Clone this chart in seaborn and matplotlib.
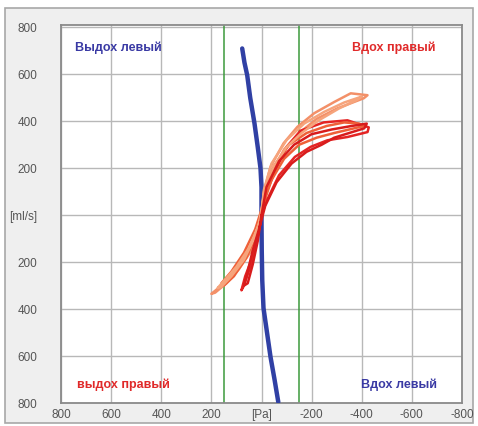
import numpy as np
import pandas as pd
import matplotlib
matplotlib.use("Agg")
import matplotlib.pyplot as plt
import seaborn as sns
from matplotlib.patches import Rectangle

# ---------------- data ----------------
x_ticks = [800, 600, 400, 200, 0, -200, -400, -600, -800]
x_labels = ["800", "600", "400", "200", "[Pa]", "-200", "-400", "-600", "-800"]
y_ticks = [800, 600, 400, 200, 0, -200, -400, -600, -800]
y_labels = ["800", "600", "400", "200", "[ml/s]", "200", "400", "600", "800"]
green_lines = [150, -148]

blue_p = [77, 68, 57, 45, 28, 15, 4, 0, 0, -1, -3, -8, -22, -36, -52, -67]
blue_q = [710, 650, 596, 500, 391, 290, 200, 119, -30, -150, -277, -396, -500, -604, -700, -796]

cycA_p = [0, -8, -36, -88, -143, -210, -290, -356, -423, -408, -303, -220, -150, -90, -40, -5, 20, 60, 110, 160, 200, 185, 140, 90, 40, 10, 0]
cycA_q = [0, 94, 206, 306, 376, 434, 482, 519, 511, 498, 455, 410, 350, 280, 180, 50, -80, -170, -240, -300, -335, -330, -290, -230, -150, -60, 0]

cycB_p = [0, -20, -60, -100, -156, -248, -343, -428, -423, -343, -263, -196, -133, -70, -20, 0, 15, 40, 65, 80, 70, 45, 20, 0]
cycB_q = [0, 100, 200, 290, 360, 395, 404, 374, 354, 333, 319, 291, 248, 170, 60, 0, -90, -190, -260, -320, -300, -220, -120, 0]

cycC_p = [0, -15, -50, -110, -180, -260, -330, -390, -410, -350, -290, -220, -150, -90, -40, -5, 25, 70, 120, 160, 150, 110, 60, 20, 0]
cycC_q = [0, 100, 210, 300, 350, 380, 395, 390, 380, 365, 350, 330, 300, 240, 150, 40, -60, -160, -240, -290, -300, -260, -180, -80, 0]

cycD_p = [0, -10, -40, -100, -170, -250, -330, -400, -380, -310, -230, -160, -100, -50, -10, 10, 50, 100, 150, 175, 160, 120, 70, 30, 0]
cycD_q = [0, 110, 220, 320, 390, 440, 480, 505, 490, 455, 405, 350, 290, 210, 90, -40, -140, -220, -280, -310, -305, -260, -190, -100, 0]

cycE_p = [0, -20, -70, -130, -200, -280, -360, -420, -410, -350, -290, -240, -180, -120, -60, -15, 10, 35, 55, 70, 55, 35, 15, 0]
cycE_q = [0, 120, 230, 300, 345, 365, 380, 390, 370, 350, 330, 300, 270, 220, 140, 40, -60, -150, -240, -300, -290, -210, -110, 0]

cycle_names = ["A", "B", "C", "D", "E"]
cycle_colors = ["#f39068", "#e42424", "#ef6038", "#f6a47c", "#d81c1c"]

# ---------------- build frames ----------------
cycles = [(cycA_p, cycA_q), (cycB_p, cycB_q), (cycC_p, cycC_q), (cycD_p, cycD_q), (cycE_p, cycE_q)]
rows = []
for name, (ps, qs) in zip(cycle_names, cycles):
    for i, (p, q) in enumerate(zip(ps, qs)):
        rows.append({"cycle": name, "order": i, "p": p, "q": q})
red_df = pd.DataFrame(rows)
blue_df = pd.DataFrame({"p": blue_p, "q": blue_q})

# ---------------- figure ----------------
sns.set_style("white")
plt.rcParams['font.family'] = ['Liberation Sans', 'DejaVu Sans']

W, H = 478, 426
fig = plt.figure(figsize=(W / 100, H / 100), dpi=100, facecolor="white")
frame = Rectangle((5 / W, 3 / H), 468 / W, 415 / H, transform=fig.transFigure,
                  facecolor="#efefef", edgecolor="#a8a8a8", linewidth=1.2, zorder=-10)
fig.add_artist(frame)

ax = fig.add_axes([61 / W, (H - 403) / H, (462 - 61) / W, (403 - 25) / H])
ax.set_zorder(5)
ax.set_facecolor("white")

ax.set_xlim(800, -800)
ax.set_ylim(-800, 810)

for t in x_ticks:
    ax.axvline(t, color="#b8b8b8", lw=1.0, zorder=1)
for t in y_ticks:
    ax.axhline(t, color="#b8b8b8", lw=1.0, zorder=1)
for g in green_lines:
    ax.axvline(g, color="#3c9a3c", lw=1.1, zorder=2)

sns.lineplot(data=blue_df, x="p", y="q", sort=False, estimator=None, color="#3040a4",
             lw=3.2, ax=ax, zorder=3)
sns.lineplot(data=red_df, x="p", y="q", hue="cycle", units="cycle", sort=False,
             estimator=None, palette=dict(zip(cycle_names, cycle_colors)), lw=1.8,
             ax=ax, legend=False, zorder=4)

ax.set_xticks(x_ticks)
ax.set_xticklabels(x_labels)
ax.set_yticks(y_ticks)
ax.set_yticklabels(y_labels)
ax.tick_params(axis="both", length=0, labelsize=8.5, labelcolor="#555555")
ax.tick_params(axis="y", pad=17)
ax.tick_params(axis="x", pad=4)
ax.set_xlabel("")
ax.set_ylabel("")
for s in ax.spines.values():
    s.set_color("#8a8a8a")
    s.set_linewidth(1.3)

txt_kw = dict(fontsize=9, fontweight="bold", va="center", zorder=6)
ax.text(745, 715, "Выдох левый", color="#3a3aa4", ha="left", **txt_kw)
ax.text(-362, 715, "Вдох правый", color="#e02a2a", ha="left", **txt_kw)
ax.text(736, -723, "выдох правый", color="#e02a2a", ha="left", **txt_kw)
ax.text(-396, -723, "Вдох левый", color="#3a3aa4", ha="left", **txt_kw)

fig.savefig("out.png", dpi=100, facecolor=fig.get_facecolor())
